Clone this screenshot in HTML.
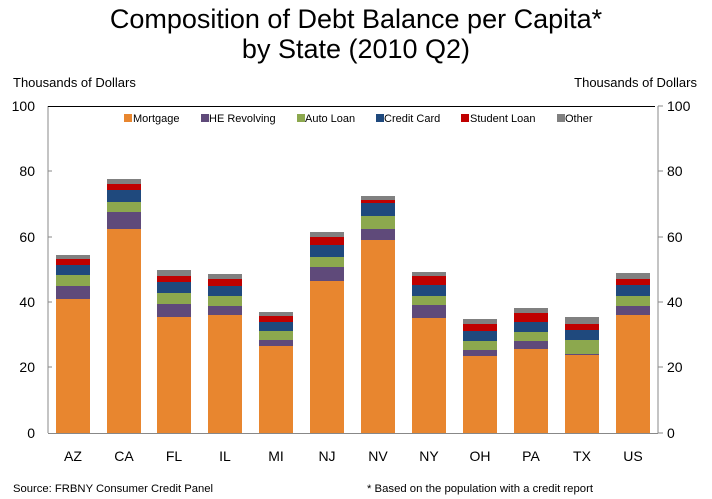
<!DOCTYPE html>
<html><head><meta charset="utf-8"><style>body{margin:0;background:#fff}svg{display:block}text{font-family:"Liberation Sans",Arial,sans-serif}
.o{fill:#808080}.s{fill:#C00000}.c{fill:#1F497D}.a{fill:#8CA84E}.h{fill:#5F4A7A}.m{fill:#E8862F}</style></head><body>
<svg width="712" height="499" viewBox="0 0 712 499" xmlns="http://www.w3.org/2000/svg">
<text x="356" y="28" font-size="27" text-anchor="middle" fill="#000">Composition of Debt Balance per Capita*</text>
<text x="356" y="58" font-size="27" text-anchor="middle" fill="#000">by State (2010 Q2)</text>
<text x="13" y="87" font-size="13" fill="#000">Thousands of Dollars</text>
<text x="697" y="87" font-size="13" fill="#000" text-anchor="end">Thousands of Dollars</text>
<g font-size="14" fill="#000">
<text x="35" y="111" text-anchor="end">100</text><text x="35" y="176" text-anchor="end">80</text><text x="35" y="242" text-anchor="end">60</text><text x="35" y="307" text-anchor="end">40</text><text x="35" y="372" text-anchor="end">20</text><text x="35" y="438" text-anchor="end">0</text>
<text x="667" y="111">100</text><text x="667" y="176">80</text><text x="667" y="242">60</text><text x="667" y="307">40</text><text x="667" y="372">20</text><text x="667" y="438">0</text>
</g>
<g stroke="#888" stroke-width="1">
<line x1="48" y1="106" x2="48" y2="433"/><line x1="658" y1="106" x2="658" y2="433"/><line x1="48" y1="433.5" x2="658" y2="433.5"/>
<line x1="48" y1="171" x2="52" y2="171"/><line x1="48" y1="237" x2="52" y2="237"/><line x1="48" y1="302" x2="52" y2="302"/><line x1="48" y1="367" x2="52" y2="367"/>
<line x1="658" y1="106" x2="663" y2="106"/><line x1="658" y1="171" x2="663" y2="171"/><line x1="658" y1="237" x2="663" y2="237"/><line x1="658" y1="302" x2="663" y2="302"/><line x1="658" y1="367" x2="663" y2="367"/><line x1="658" y1="433" x2="663" y2="433"/>
</g>
<line x1="48" y1="106.5" x2="655" y2="106.5" stroke="#000" stroke-width="1"/>

<g transform="translate(56,0)"><rect class="o" y="255" width="34" height="4"/><rect class="s" y="259" width="34" height="6"/><rect class="c" y="265" width="34" height="10"/><rect class="a" y="275" width="34" height="11"/><rect class="h" y="286" width="34" height="13"/><rect class="m" y="299" width="34" height="134"/></g>
<g transform="translate(107,0)"><rect class="o" y="179" width="34" height="5"/><rect class="s" y="184" width="34" height="6"/><rect class="c" y="190" width="34" height="12"/><rect class="a" y="202" width="34" height="10"/><rect class="h" y="212" width="34" height="17"/><rect class="m" y="229" width="34" height="204"/></g>
<g transform="translate(157,0)"><rect class="o" y="270" width="34" height="6"/><rect class="s" y="276" width="34" height="6"/><rect class="c" y="282" width="34" height="11"/><rect class="a" y="293" width="34" height="11"/><rect class="h" y="304" width="34" height="13"/><rect class="m" y="317" width="34" height="116"/></g>
<g transform="translate(208,0)"><rect class="o" y="274" width="34" height="5"/><rect class="s" y="279" width="34" height="7"/><rect class="c" y="286" width="34" height="10"/><rect class="a" y="296" width="34" height="10"/><rect class="h" y="306" width="34" height="9"/><rect class="m" y="315" width="34" height="118"/></g>
<g transform="translate(259,0)"><rect class="o" y="312" width="34" height="4"/><rect class="s" y="316" width="34" height="6"/><rect class="c" y="322" width="34" height="9"/><rect class="a" y="331" width="34" height="9"/><rect class="h" y="340" width="34" height="6"/><rect class="m" y="346" width="34" height="87"/></g>
<g transform="translate(310,0)"><rect class="o" y="232" width="34" height="5"/><rect class="s" y="237" width="34" height="8"/><rect class="c" y="245" width="34" height="12"/><rect class="a" y="257" width="34" height="10"/><rect class="h" y="267" width="34" height="14"/><rect class="m" y="281" width="34" height="152"/></g>
<g transform="translate(361,0)"><rect class="o" y="196" width="34" height="4"/><rect class="s" y="200" width="34" height="3"/><rect class="c" y="203" width="34" height="13"/><rect class="a" y="216" width="34" height="13"/><rect class="h" y="229" width="34" height="11"/><rect class="m" y="240" width="34" height="193"/></g>
<g transform="translate(412,0)"><rect class="o" y="272" width="34" height="4"/><rect class="s" y="276" width="34" height="9"/><rect class="c" y="285" width="34" height="11"/><rect class="a" y="296" width="34" height="9"/><rect class="h" y="305" width="34" height="13"/><rect class="m" y="318" width="34" height="115"/></g>
<g transform="translate(463,0)"><rect class="o" y="319" width="34" height="5"/><rect class="s" y="324" width="34" height="7"/><rect class="c" y="331" width="34" height="10"/><rect class="a" y="341" width="34" height="9"/><rect class="h" y="350" width="34" height="6"/><rect class="m" y="356" width="34" height="77"/></g>
<g transform="translate(514,0)"><rect class="o" y="308" width="34" height="5"/><rect class="s" y="313" width="34" height="9"/><rect class="c" y="322" width="34" height="10"/><rect class="a" y="332" width="34" height="9"/><rect class="h" y="341" width="34" height="8"/><rect class="m" y="349" width="34" height="84"/></g>
<g transform="translate(565,0)"><rect class="o" y="317" width="34" height="7"/><rect class="s" y="324" width="34" height="6"/><rect class="c" y="330" width="34" height="10"/><rect class="a" y="340" width="34" height="14"/><rect class="h" y="354" width="34" height="1"/><rect class="m" y="355" width="34" height="78"/></g>
<g transform="translate(616,0)"><rect class="o" y="273" width="34" height="6"/><rect class="s" y="279" width="34" height="6"/><rect class="c" y="285" width="34" height="11"/><rect class="a" y="296" width="34" height="10"/><rect class="h" y="306" width="34" height="9"/><rect class="m" y="315" width="34" height="118"/></g>

<g font-size="11" fill="#000">
<rect x="124" y="114" width="8" height="8" class="m"/><text x="133" y="122">Mortgage</text>
<rect x="201" y="114" width="8" height="8" class="h"/><text x="209" y="122">HE Revolving</text>
<rect x="297" y="114" width="8" height="8" class="a"/><text x="305" y="122">Auto Loan</text>
<rect x="376" y="114" width="8" height="8" class="c"/><text x="384" y="122">Credit Card</text>
<rect x="461" y="114" width="8" height="8" class="s"/><text x="470" y="122">Student Loan</text>
<rect x="557" y="114" width="8" height="8" class="o"/><text x="565" y="122">Other</text>
</g>
<g font-size="14" fill="#000" text-anchor="middle">
<text x="73" y="461">AZ</text><text x="124" y="461">CA</text><text x="174" y="461">FL</text><text x="225" y="461">IL</text><text x="276" y="461">MI</text><text x="327" y="461">NJ</text><text x="378" y="461">NV</text><text x="429" y="461">NY</text><text x="480" y="461">OH</text><text x="531" y="461">PA</text><text x="582" y="461">TX</text><text x="633" y="461">US</text>
</g>
<text x="13" y="492" font-size="11" textLength="200" lengthAdjust="spacingAndGlyphs">Source: FRBNY Consumer Credit Panel</text>
<text x="367" y="492" font-size="11" textLength="226" lengthAdjust="spacingAndGlyphs">* Based on the population with a credit report</text>
</svg>
</body></html>
